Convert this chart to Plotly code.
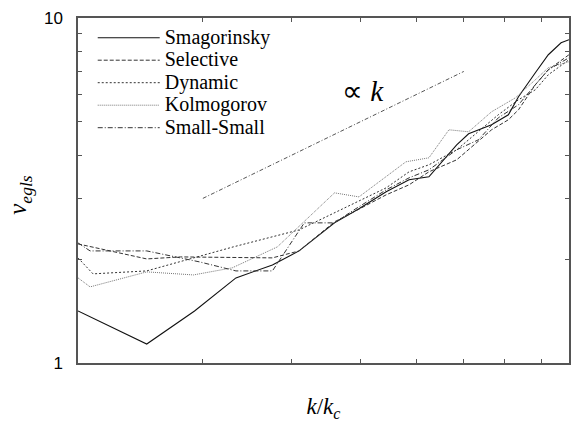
import plotly.graph_objects as go
import math

# k/k_c values and eddy viscosity values
smag_k = [0.200, 0.250, 0.292, 0.334, 0.376, 0.410, 0.460, 0.498, 0.544, 0.586, 0.625, 0.684, 0.711, 0.766, 0.809, 0.836, 0.883, 0.921, 0.960, 0.985]
smag_v = [1.415, 1.135, 1.415, 1.765, 1.924, 2.113, 2.548, 2.798, 3.134, 3.396, 3.464, 4.290, 4.617, 4.904, 5.243, 5.912, 6.938, 7.826, 8.478, 8.651]

sel_k = [0.200, 0.250, 0.279, 0.376, 0.410, 0.460, 0.490, 0.544, 0.586, 0.625, 0.684, 0.711, 0.766, 0.809, 0.836, 0.883, 0.921, 0.985]
sel_v = [2.214, 2.003, 2.030, 2.017, 2.113, 2.566, 2.743, 3.072, 3.285, 3.582, 3.881, 4.149, 4.742, 5.070, 5.420, 6.405, 7.080, 7.826]

dyn_k = [0.200, 0.210, 0.250, 0.331, 0.410, 0.490, 0.544, 0.586, 0.625, 0.684, 0.734, 0.783, 0.836, 0.883, 0.921, 0.985]
dyn_v = [2.017, 1.813, 1.849, 2.170, 2.431, 2.911, 3.219, 3.582, 3.754, 4.149, 4.679, 5.243, 5.794, 6.194, 6.847, 7.568]

kol_k = [0.200, 0.208, 0.250, 0.291, 0.330, 0.382, 0.460, 0.498, 0.580, 0.625, 0.667, 0.711, 0.766, 0.828, 0.883, 0.921, 0.985]
kol_v = [1.765, 1.662, 1.837, 1.800, 1.887, 2.170, 3.113, 3.030, 3.830, 3.933, 4.742, 4.679, 5.348, 5.873, 6.622, 7.175, 7.468]

ss_k = [0.200, 0.208, 0.250, 0.297, 0.334, 0.376, 0.417, 0.460, 0.490, 0.544, 0.586, 0.625, 0.684, 0.734, 0.783, 0.836, 0.883, 0.921, 0.985]
ss_v = [2.229, 2.113, 2.113, 1.963, 1.849, 1.849, 2.548, 2.548, 2.779, 3.176, 3.441, 3.630, 4.149, 4.436, 5.137, 5.604, 6.405, 7.080, 7.670]

ref_k = [0.3, 0.7]
ref_v = [3.0, 7.0]

y_tickvals = [1, 10]
y_ticktext = ["1", "10"]
y_minor_tickvals = [2, 3, 4, 5, 6, 7, 8, 9]
x_tickvals = [0.3, 0.4, 0.5, 0.6, 0.7, 0.8, 0.9]

SERIF = "Liberation Serif, Times New Roman, serif"


def big(name):
    return "<span style='font-size:20px'>" + name + "</span>"


fig = go.Figure()
fig.add_trace(go.Scatter(x=smag_k, y=smag_v, mode="lines", name=big("Smagorinsky"),
                         line=dict(color="#111111", width=1.1, dash="solid")))
fig.add_trace(go.Scatter(x=sel_k, y=sel_v, mode="lines", name=big("Selective"),
                         line=dict(color="#333333", width=1.0, dash="4px,2px")))
fig.add_trace(go.Scatter(x=dyn_k, y=dyn_v, mode="lines", name=big("Dynamic"),
                         line=dict(color="#333333", width=1.0, dash="2px,2px")))
fig.add_trace(go.Scatter(x=kol_k, y=kol_v, mode="lines", name=big("Kolmogorov"),
                         line=dict(color="#777777", width=1.0, dash="1px,1px")))
fig.add_trace(go.Scatter(x=ss_k, y=ss_v, mode="lines", name=big("Small-Small"),
                         line=dict(color="#333333", width=1.0, dash="5px,2px,1px,2px")))
fig.add_trace(go.Scatter(x=ref_k, y=ref_v, mode="lines", showlegend=False,
                         line=dict(color="#555555", width=1.0, dash="4px,2px,1px,2px")))

axis_common = dict(showgrid=False, zeroline=False, showline=True, linecolor="#555555",
                   linewidth=1.5, ticks="inside", ticklen=4, tickcolor="#555555",
                   mirror="ticks")

fig.update_xaxes(type="log", range=[math.log10(0.2), math.log10(0.985)],
                 tickvals=x_tickvals, showticklabels=False,
                 title=dict(text="<i>k</i>/<i>k</i><sub><i>c</i></sub>",
                            font=dict(family=SERIF, size=23, color="black"),
                            standoff=36),
                 **axis_common)
fig.update_yaxes(type="log", range=[0, 1], tickvals=y_tickvals, ticktext=y_ticktext,
                 tickfont=dict(family="Liberation Sans", size=17, color="black"),
                 ticklabelstandoff=10,
                 minor=dict(tickvals=y_minor_tickvals, ticks="inside", ticklen=4,
                            tickcolor="#555555", showgrid=False),
                 **axis_common)

fig.add_annotation(text="<i>ν</i><sub><i>egls</i></sub>", xref="paper", yref="paper",
                   x=-0.118, y=0.485, xanchor="center", yanchor="middle", textangle=-90,
                   showarrow=False, font=dict(family=SERIF, size=25, color="black"))

fig.add_annotation(text="∝ <i>k</i>", xref="paper", yref="paper", x=0.58, y=0.842,
                   showarrow=False, font=dict(family=SERIF, size=29, color="black"))

fig.update_layout(
    width=571, height=422,
    margin=dict(l=78, r=0, t=18, b=59),
    plot_bgcolor="white", paper_bgcolor="white",
    legend=dict(x=0.03, y=0.99, xanchor="left", yanchor="top",
                bgcolor="rgba(0,0,0,0)", itemwidth=62, tracegroupgap=0,
                font=dict(family=SERIF, size=15, color="black")),
)

fig.write_html("out.html")
